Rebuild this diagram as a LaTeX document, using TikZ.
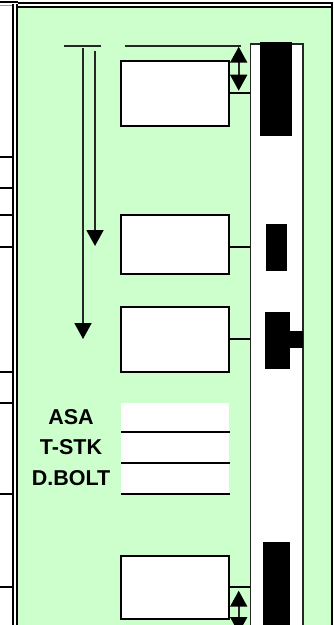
\documentclass[tikz,border=0pt]{standalone}
\usepackage{fontspec}
\setmainfont{Liberation Sans}
\usetikzlibrary{arrows.meta,calc}
\definecolor{panelgreen}{HTML}{CCFFCC}
\tikzset{
	fieldbox/.style={draw, line width=2.3pt, fill=white, inner sep=0pt, outer sep=0pt, minimum width=107.5pt},
	stub/.style={line width=2.3pt},
	dimline/.style={line width=1.9pt, color=black!85},
	bigtip/.style={-{Triangle[width=17pt,length=16pt,color=black]}},
	twotip/.style={{Triangle[width=17pt,length=16pt,color=black]}-{Triangle[width=17pt,length=16pt,color=black]}},
	fieldname/.style={font=\fontsize{21.5}{21.5}\selectfont\bfseries, inner sep=0pt}
}

\begin{document}
\begin{tikzpicture}[x=1pt, y=-1pt]
	\useasboundingbox (0, 0) rectangle (333, 625);
	\clip (0, 0) rectangle (333, 625);

	%%%%% PANEL %%%%%
	\fill[panelgreen] (17, 7) rectangle (333, 625);
	\draw[line width=2pt] (0, 2) -- (18, 2);
	\draw[line width=1pt, color=black!40] (0, 5) -- (13, 5);
	\draw[line width=2pt] (18, 3) -- (333, 3);
	\draw[line width=2pt] (17, 6.7) -- (333, 6.7);
	\draw[line width=2pt] (13, 4) -- (13, 625);
	\draw[line width=2pt] (17, 4) -- (17, 625);
	\draw[line width=2pt] (332, 3) -- (332, 625);
	\foreach \y in {156.5, 188, 215, 247, 372, 403, 494, 587} {
		\draw[line width=2pt] (0, \y) -- (13, \y);
	}

	%%%%% STRIP %%%%%
	\draw[line width=1.6pt, color=black!85, fill=white] (250.3, 44) rectangle (303, 640);
	\coordinate (stripedge) at (250.3, 44);
	\fill[black] (259.7, 42) rectangle (291.7, 136);
	\fill[black] (266.3, 223.7) rectangle (286.7, 270.7);
	\fill[black] (264.7, 311.7) rectangle (290, 368.7);
	\fill[black] (290, 331.3) rectangle (302.5, 348.3);
	\fill[black] (263.3, 542.3) rectangle (290, 630);

	%%%%% BOXES %%%%%
	\node[fieldbox, minimum height=65pt] (boxone) at (175, 93.2) {};
	\node[fieldbox, minimum height=59pt] (boxtwo) at (175, 244.5) {};
	\node[fieldbox, minimum height=65pt] (boxthree) at (175, 339.2) {};
	\node[fieldbox, minimum height=63pt] (boxfour) at (175, 587.2) {};

	\draw[stub] (boxone.east) -- (boxone.east -| stripedge);
	\draw[stub] ($(boxtwo.east)+(0, 2.5)$) -- ($(boxtwo.east -| stripedge)+(0, 2.5)$);
	\draw[stub] (boxthree.east) -- (boxthree.east -| stripedge);
	\draw[stub] (boxfour.east) -- (boxfour.east -| stripedge);

	%%%%% FIELDS %%%%%
	\fill[white] (121, 403) rectangle (229, 493);
	\draw[stub] (121, 432) -- (230, 432);
	\draw[stub] (121, 463) -- (230, 463);
	\draw[stub] (121, 493.7) -- (230, 493.7);
	\node[fieldname] (asa) at (71, 417.5) {ASA};
	\node[fieldname] (tstk) at (71, 447.5) {T-STK};
	\node[fieldname] (dbolt) at (71, 478) {D.BOLT};

	%%%%% TRAVEL %%%%%
	\coordinate (barleft) at (64, 46);
	\coordinate (barright) at (101, 46);
	\coordinate (longtop) at (83, 48);
	\coordinate (longend) at (83, 339);
	\coordinate (shorttop) at (95, 51);
	\coordinate (shortend) at (95, 246);
	\draw[dimline] (barleft) -- (barright);
	\draw[dimline, bigtip] (longtop) -- (longend);
	\draw[dimline, bigtip] (shorttop) -- (shortend);

	\coordinate (ruleleft) at (125, 46);
	\coordinate (ruleright) at (241, 46);
	\coordinate (gapone) at (238.7, 46.7);
	\coordinate (gaptwo) at (238.7, 90.7);
	\coordinate (gapthree) at (238.7, 590.7);
	\coordinate (gapfour) at (238.7, 633);
	\draw[dimline] (ruleleft) -- (ruleright);
	\draw[dimline, twotip] (gapone) -- (gaptwo);
	\draw[dimline, twotip] (gapthree) -- (gapfour);
\end{tikzpicture}
\end{document}
